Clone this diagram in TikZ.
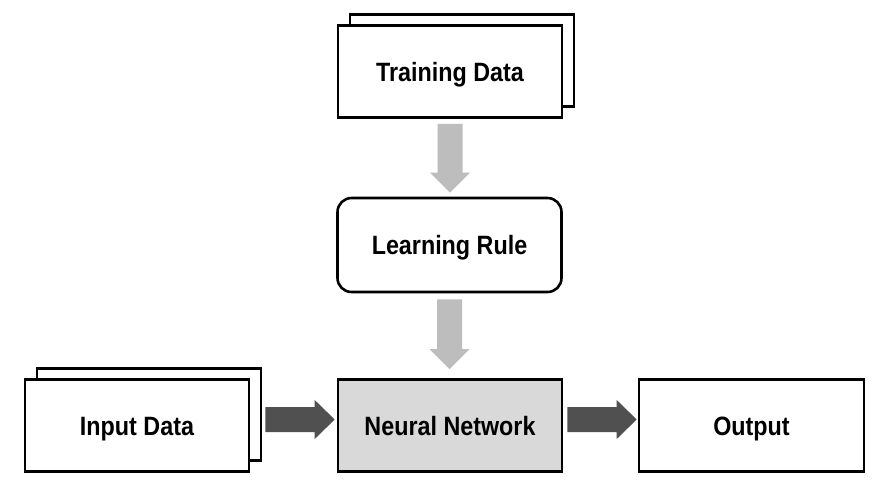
\documentclass[tikz,border=0pt]{standalone}
\usepackage{fontspec}
\setmainfont{Liberation Sans}[FakeStretch=0.88]
\usetikzlibrary{calc}
\definecolor{lightarrow}{HTML}{BDBDBD}
\definecolor{darkarrow}{HTML}{505050}
\definecolor{nnfill}{HTML}{D9D9D9}
\newcommand{\dnarrowshape}[3]{%
  \fill[#3] let \p1=(#1), \p2=(#2) in
    (\x1-12.5pt,\y1) -- (\x1-12.5pt,\y2+20pt) -- (\x1-20pt,\y2+20pt) --
    (\x1,\y2) -- (\x1+20pt,\y2+20pt) -- (\x1+12.5pt,\y2+20pt) --
    (\x1+12.5pt,\y1) -- cycle;}
\newcommand{\rtarrowshape}[3]{%
  \fill[#3] let \p1=(#1), \p2=(#2) in
    (\x1,\y1-12.5pt) -- (\x2-20pt,\y1-12.5pt) -- (\x2-20pt,\y1-19.5pt) --
    (\x2,\y1) -- (\x2-20pt,\y1+19.5pt) -- (\x2-20pt,\y1+12.5pt) --
    (\x1,\y1+12.5pt) -- cycle;}
\tikzset{
  box/.style={draw=black, line width=2.6pt, fill=white, minimum width=224pt,
    minimum height=92pt, inner sep=0pt, text height=19pt, text depth=0pt,
    font=\fontsize{26.5pt}{31pt}\selectfont\bfseries},
}
\begin{document}
\begin{tikzpicture}[x=1pt,y=-1pt]
\useasboundingbox[fill=white] (0,0) rectangle (885,499);
% Training data (stacked)
\node[box] (tdb) at (462,60.5) {};
\node[box] (td) at (450,71.5) {Training Data};
% Learning rule
\node[box, rounded corners=14pt, minimum height=94pt] (lr) at (449.5,245) {Learning Rule};
% Neural network
\node[box, fill=nnfill] (nn) at (450,425.5) {Neural Network};
% Input data (stacked)
\node[box] (inb) at (149,414.5) {};
\node[box] (in) at (137,425.5) {Input Data};
% Output
\node[box, minimum width=225pt] (out) at (751.5,425.5) {Output};
% arrows
\coordinate (a1s) at ($(td.south)+(0,5)$);
\coordinate (a1e) at ($(lr.north)+(0,-4)$);
\dnarrowshape{a1s}{a1e}{lightarrow}
\coordinate (a2s) at ($(lr.south)+(0,6)$);
\coordinate (a2e) at ($(nn.north)+(0,-9)$);
\dnarrowshape{a2s}{a2e}{lightarrow}
\coordinate (a3s) at ($(in.east)+(15,-6)$);
\coordinate (a3e) at ($(nn.west)+(-2,-6)$);
\rtarrowshape{a3s}{a3e}{darkarrow}
\coordinate (a4s) at ($(nn.east)+(4,-6)$);
\coordinate (a4e) at ($(out.west)+(-1,-6)$);
\rtarrowshape{a4s}{a4e}{darkarrow}
\end{tikzpicture}
\end{document}
